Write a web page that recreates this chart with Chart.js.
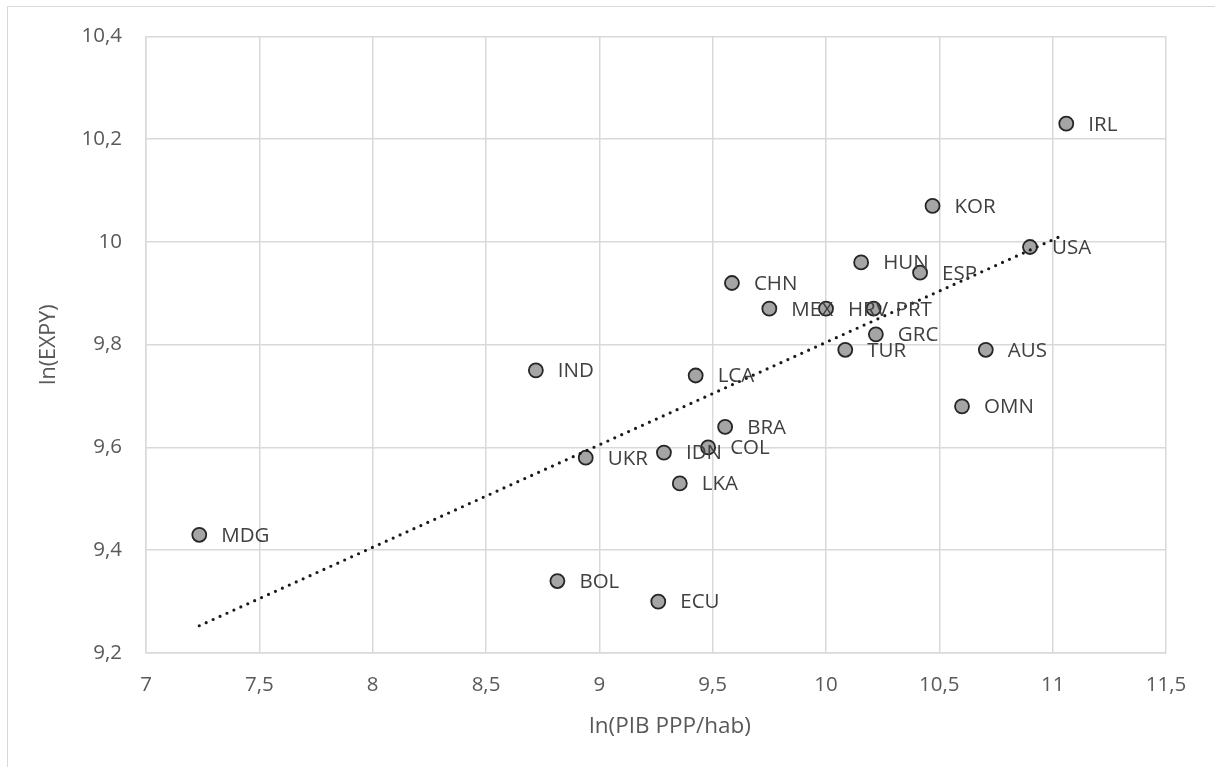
<!DOCTYPE html>
<html lang="pt-br">
<head>
  <meta charset="UTF-8" />
  <title>ln(EXPY) vs ln(PIB PPP/hab)</title>
  <script src="https://cdn.jsdelivr.net/npm/chart.js"></script>
  <style>
    html, body { margin: 0; padding: 0; background: #fff; }
    #wrap { position: relative; width: 1215px; height: 767px; overflow: hidden; }
    #frame { position: absolute; left: 7px; top: 6px; width: 1240px; height: 800px;
             border: 1px solid #d9d9d9; box-sizing: border-box; }
    canvas { position: absolute; left: 0; top: 0; }
  </style>
</head>
<body>
  <div id="wrap">
    <div id="frame"></div>
    <canvas id="grafico" width="1215" height="767"></canvas>
  </div>

  <script>
    // dados
    const paises = ['IRL', 'KOR', 'USA', 'HUN', 'ESP', 'CHN', 'MEX', 'HRV', 'PRT', 'GRC', 'TUR', 'AUS',
                    'IND', 'LCA', 'OMN', 'BRA', 'COL', 'IDN', 'UKR', 'LKA', 'MDG', 'BOL', 'ECU'];
    const lnPib  = [11.06, 10.47, 10.90, 10.155, 10.415, 9.585, 9.75, 10.0, 10.21, 10.22, 10.085, 10.705,
                    8.72, 9.425, 10.60, 9.555, 9.48, 9.285, 8.94, 9.355, 7.235, 8.815, 9.26];
    const lnExpy = [10.23, 10.07, 9.99, 9.96, 9.94, 9.92, 9.87, 9.87, 9.87, 9.82, 9.79, 9.79,
                    9.75, 9.74, 9.68, 9.64, 9.60, 9.59, 9.58, 9.53, 9.43, 9.34, 9.30];
    // linha de tendência (extremos)
    const tendX = [7.235, 11.035];
    const tendY = [9.253, 10.011];

    const tituloX = 'ln(PIB PPP/hab)';
    const tituloY = 'ln(EXPY)';

    const fonte = '"Open Sans", sans-serif';
    const cinzaTexto = '#595959';

    const pontos = lnPib.map((x, i) => ({ x: x, y: lnExpy[i] }));
    const tendencia = tendX.map((x, i) => ({ x: x, y: tendY[i] }));

    const virgula = v => String(Math.round(v * 10) / 10).replace('.', ',');

    const rotulos = {
      id: 'rotulos',
      afterDatasetsDraw(chart) {
        const meta = chart.getDatasetMeta(1);
        const ctx = chart.ctx;
        ctx.save();
        ctx.font = '20.5px ' + fonte;
        ctx.fillStyle = '#404040';
        ctx.textBaseline = 'middle';
        ctx.textAlign = 'left';
        meta.data.forEach((p, i) => {
          ctx.fillText(paises[i], p.x + 22, p.y + 1);
        });
        // título do eixo x (um pouco deslocado à direita, como no Excel)
        ctx.font = '22.5px ' + fonte;
        ctx.fillStyle = cinzaTexto;
        ctx.textAlign = 'center';
        ctx.fillText(tituloX, chart.chartArea.left + (chart.chartArea.right - chart.chartArea.left) / 2 + 14, 727);
        ctx.restore();
      }
    };

    new Chart(document.getElementById('grafico'), {
      type: 'scatter',
      data: {
        datasets: [
          {
            label: 'Tendência',
            type: 'line',
            data: tendencia,
            borderColor: '#1a1a1a',
            borderWidth: 3.2,
            borderCapStyle: 'round',
            borderDash: [0, 7.6],
            pointRadius: 0,
            fill: false
          },
          {
            label: 'Países',
            data: pontos,
            pointRadius: 7,
            pointBackgroundColor: '#a5a5a5',
            pointBorderColor: '#262626',
            pointBorderWidth: 1.8
          }
        ]
      },
      options: {
        responsive: false,
        animation: false,
        layout: { padding: { top: 36, right: 49, left: 0, bottom: 0 } },
        plugins: { legend: { display: false }, tooltip: { enabled: false } },
        scales: {
          x: {
            type: 'linear',
            min: 7, max: 11.5,
            afterFit: s => { s.height = 114; },
            grid: { color: '#d9d9d9', lineWidth: 1.5, drawTicks: false },
            border: { color: '#d9d9d9', width: 1.5 },
            ticks: { stepSize: 0.5, padding: 20, color: cinzaTexto, font: { family: fonte, size: 20.5 }, callback: virgula },
            title: { display: false }
          },
          y: {
            type: 'linear',
            min: 9.2, max: 10.4,
            afterFit: s => { s.width = 146; },
            grid: { color: '#d9d9d9', lineWidth: 1.5, drawTicks: false },
            border: { color: '#d9d9d9', width: 1.5 },
            ticks: { stepSize: 0.2, padding: 24, color: cinzaTexto, font: { family: fonte, size: 20.5 }, callback: virgula },
            title: { display: true, text: tituloY, color: cinzaTexto, font: { family: fonte, size: 21.5 }, padding: { top: 36, bottom: 0 } }
          }
        }
      },
      plugins: [rotulos]
    });
  </script>
</body>
</html>
